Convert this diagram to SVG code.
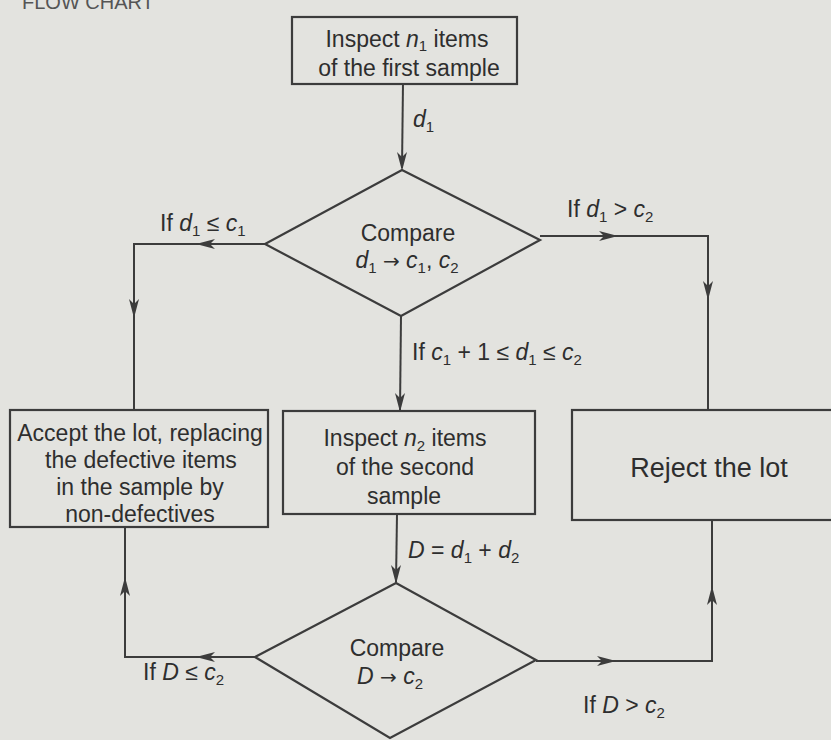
<svg xmlns="http://www.w3.org/2000/svg" width="831" height="740" viewBox="0 0 831 740">
<defs>
<style>
.bg{fill:#e3e3df}
.box{fill:none;stroke:#3c3c3c;stroke-width:2.2}
.ln{fill:none;stroke:#3c3c3c;stroke-width:2}
.ah{fill:#3c3c3c}
text{font-family:"Liberation Sans",Arial,sans-serif;fill:#2e2e2e;font-size:23px}
.c{text-anchor:middle}
.i{font-style:italic}
.s{font-size:15px}
.ar{font-family:"DejaVu Sans",sans-serif;font-size:20px}
</style>
</defs>
<rect class="bg" x="0" y="0" width="831" height="740"/>
<text x="22" y="9" style="font-size:20px;fill:#555">FLOW CHART</text>

<g id="connectors">
<line class="ln" x1="403" y1="83" x2="402" y2="168"/>
<polygon class="ah" points="402,171 397,152 402,157 407,152"/>
<polyline class="ln" points="265,244 134,244 134,410"/>
<polygon class="ah" points="196,244 215,239 210,244 215,249"/>
<polygon class="ah" points="134,318 129,299 134,304 139,299"/>
<polyline class="ln" points="540,236 708,236 708,410"/>
<polygon class="ah" points="618,236 599,231 604,236 599,241"/>
<polygon class="ah" points="708,300 703,281 708,286 713,281"/>
<line class="ln" x1="401" y1="316" x2="400" y2="410"/>
<polygon class="ah" points="400,412 395,393 400,398 405,393"/>
<line class="ln" x1="397" y1="514" x2="396" y2="582"/>
<polygon class="ah" points="396,584 391,565 396,570 401,565"/>
<polyline class="ln" points="255,657 125,657 125,527"/>
<polygon class="ah" points="196,657 215,652 210,657 215,662"/>
<polygon class="ah" points="125,577 120,596 125,591 130,596"/>
<polyline class="ln" points="536,661 712,661 712,520"/>
<polygon class="ah" points="616,661 597,656 602,661 597,666"/>
<polygon class="ah" points="712,586 707,605 712,600 717,605"/>
<text x="413" y="127"><tspan class="i">d</tspan><tspan class="s" dy="5">1</tspan></text>
<text x="160" y="231">If <tspan class="i">d</tspan><tspan class="s" dy="5">1</tspan><tspan dy="-5"> ≤ </tspan><tspan class="i">c</tspan><tspan class="s" dy="5">1</tspan></text>
<text x="567" y="217">If <tspan class="i">d</tspan><tspan class="s" dy="5">1</tspan><tspan dy="-5"> &gt; </tspan><tspan class="i">c</tspan><tspan class="s" dy="5">2</tspan></text>
<text x="412" y="360">If <tspan class="i">c</tspan><tspan class="s" dy="5">1</tspan><tspan dy="-5"> + 1 ≤ </tspan><tspan class="i">d</tspan><tspan class="s" dy="5">1</tspan><tspan dy="-5"> ≤ </tspan><tspan class="i">c</tspan><tspan class="s" dy="5">2</tspan></text>
<text x="408" y="558"><tspan class="i">D</tspan> =  <tspan class="i">d</tspan><tspan class="s" dy="5">1</tspan><tspan dy="-5"> + </tspan><tspan class="i">d</tspan><tspan class="s" dy="5">2</tspan></text>
<text x="143" y="680">If <tspan class="i">D</tspan> ≤ <tspan class="i">c</tspan><tspan class="s" dy="5">2</tspan></text>
<text x="583" y="713">If <tspan class="i">D</tspan> &gt; <tspan class="i">c</tspan><tspan class="s" dy="5">2</tspan></text>
</g>

<g id="inspect1">
<rect class="box" x="292" y="17" width="225" height="67"/>
<text class="c" x="407" y="47">Inspect <tspan class="i">n</tspan><tspan class="s" dy="4">1</tspan><tspan dy="-4"> items</tspan></text>
<text class="c" x="409" y="76">of the first sample</text>
</g>

<g id="compare1">
<polygon class="box" points="402,170 540,240 401,316 265,244"/>
<text class="c" x="408" y="241">Compare</text>
<text class="c" x="407" y="268"><tspan class="i">d</tspan><tspan class="s" dy="5">1</tspan><tspan class="ar" dy="-5"> → </tspan><tspan class="i">c</tspan><tspan class="s" dy="5">1</tspan><tspan dy="-5">, </tspan><tspan class="i">c</tspan><tspan class="s" dy="5">2</tspan></text>
</g>

<g id="accept">
<rect class="box" x="10" y="410" width="258" height="117"/>
<text class="c" x="140" y="441">Accept the lot, replacing</text>
<text class="c" x="141" y="468">the defective items</text>
<text class="c" x="140" y="495">in the sample by</text>
<text class="c" x="140" y="522">non-defectives</text>
</g>

<g id="inspect2">
<rect class="box" x="283" y="411" width="252" height="103"/>
<text class="c" x="405" y="446">Inspect <tspan class="i">n</tspan><tspan class="s" dy="5">2</tspan><tspan dy="-5"> items</tspan></text>
<text class="c" x="405" y="475">of the second</text>
<text class="c" x="404" y="504">sample</text>
</g>

<g id="reject">
<rect class="box" x="572" y="410" width="270" height="110"/>
<text class="c" x="709" y="477" style="font-size:27px">Reject the lot</text>
</g>

<g id="compare2">
<polygon class="box" points="396,583 536,660 390,738 255,657"/>
<text class="c" x="397" y="656">Compare</text>
<text class="c" x="390" y="684"><tspan class="i">D</tspan><tspan class="ar"> → </tspan><tspan class="i">c</tspan><tspan class="s" dy="5">2</tspan></text>
</g>
</svg>
